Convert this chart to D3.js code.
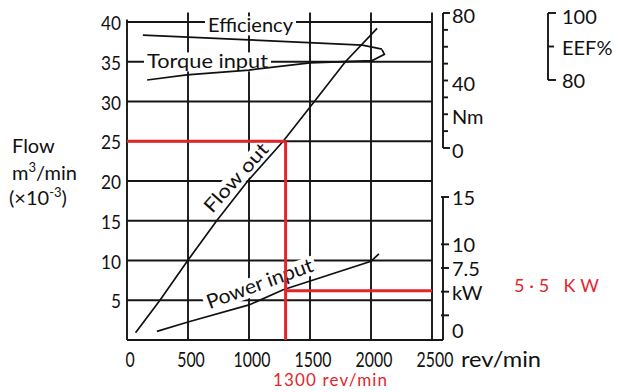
<!DOCTYPE html>
<html lang="en">
<head>
    <meta charset="UTF-8">
    <title>Pump characteristics</title>
    <script src="https://d3js.org/d3.v7.min.js"></script>
    <style>
        body {
            margin: 0;
            background: #fff;
        }
        svg text {
            font-family: Lato, "Open Sans", sans-serif;
            fill: #111;
        }
        .grid line {
            stroke: #161616;
            stroke-width: 1.9px;
        }
        .curve {
            fill: none;
            stroke: #111;
            stroke-width: 1.7px;
        }
        .red {
            stroke: #e1262b;
            stroke-width: 3px;
        }
        .redtext {
            fill: #e1262b !important;
        }
    </style>
</head>
<body>
<div id="chart"></div>
<script>
    // ---- data ----
    const rpmTicks = [0, 500, 1000, 1500, 2000, 2500];
    const flowTicks = [5, 10, 15, 20, 25, 30, 35, 40];
    const nmTicks = [0, 10, 20, 30, 40, 50, 60, 70, 80];
    const nmLabels = {80: "80", 40: "40", 20: "Nm", 0: "0"};
    const kwTicks = [0, 2.5, 5, 7.5, 10, 15];
    const kwLabels = {15: "15", 10: "10", 7.5: "7.5", 5: "kW", 0: "0"};
    const eefTicks = [100, 90, 80];
    const eefLabels = {100: "100", 90: "EEF%", 80: "80"};

    // [rev/min, flow m3/min x10^-3]
    const flowOut = [[70, 0.9], [270, 5], [498, 10], [735, 15], [990, 20], [1280, 25], [1536, 30], [1790, 35], [2050, 39.2]];
    // [rev/min, kW]
    const powerInput = [[245, 0.8], [500, 1.8], [1000, 3.6], [1280, 5.2], [2000, 8.2], [2065, 9.0]];
    // [rev/min, Nm]  (last two points are the little hook joining the efficiency curve)
    const torqueInput = [[165, 40.3], [490, 43.3], [1000, 46.2], [1500, 50.4], [2010, 51.8], [2110, 55.5], [2090, 58.3]];
    // [rev/min, EEF %]
    const efficiency = [[130, 93.4], [500, 92.8], [1000, 92.0], [1577, 91.0], [1930, 90.4], [2090, 89.2]];

    // red annotation
    const markRpm = 1300, markFlow = 25, markKw = 5.1;

    const width = 619, height = 392;

    const svg = d3.select("#chart").append("svg")
        .attr("width", width)
        .attr("height", height);

    const x = d3.scaleLinear().domain([0, 2500]).range([127, 432]);
    const yFlow = d3.scaleLinear().domain([0, 40]).range([340, 22]);
    const yNm = d3.scaleLinear().domain([0, 80]).range([148, 13]);
    const yKw = d3.scaleLinear().domain([0, 15]).range([339, 197]);
    const yEef = d3.scaleLinear().domain([80, 100]).range([80, 13]);

    // digits in the printed font are narrow, so pin their width
    const numLen = (s, w) => String(s).length * w;

    // grid
    const grid = svg.append("g").attr("class", "grid");
    grid.selectAll(".h").data(flowTicks).enter().append("line")
        .attr("x1", x(0)).attr("x2", x(2500))
        .attr("y1", d => yFlow(d)).attr("y2", d => yFlow(d));
    grid.selectAll(".v").data(rpmTicks).enter().append("line")
        .attr("x1", d => x(d)).attr("x2", d => x(d))
        .attr("y1", yFlow(0)).attr("y2", d => d === 0 ? yFlow(40.3) : yFlow(41.2));
    // bottom line runs under the kW axis
    grid.append("line")
        .attr("x1", x(0)).attr("x2", 443)
        .attr("y1", yFlow(0)).attr("y2", yFlow(0));

    // left flow axis labels
    svg.append("g").selectAll("text").data(flowTicks).enter().append("text")
        .attr("x", 121).attr("y", d => yFlow(d) + 8)
        .attr("text-anchor", "end")
        .attr("font-size", 20)
        .attr("textLength", d => numLen(d, 10))
        .attr("lengthAdjust", "spacingAndGlyphs")
        .text(d => d);

    // bottom rpm labels
    svg.append("g").selectAll("text").data(rpmTicks).enter().append("text")
        .attr("x", d => x(d) + 3).attr("y", 367)
        .attr("text-anchor", "middle")
        .attr("font-size", 21)
        .attr("textLength", d => numLen(d, 9.2))
        .attr("lengthAdjust", "spacingAndGlyphs")
        .text(d => d);
    svg.append("text").attr("x", 461).attr("y", 367)
        .attr("font-size", 21).attr("textLength", 80)
        .attr("lengthAdjust", "spacingAndGlyphs")
        .text("rev/min");

    // flow axis title
    const ft = svg.append("text").attr("font-size", 20);
    ft.append("tspan").attr("x", 12).attr("y", 153).text("Flow");
    ft.append("tspan").attr("x", 12).attr("y", 180).text("m");
    ft.append("tspan").attr("dy", -8).attr("font-size", 13).text("3");
    ft.append("tspan").attr("dy", 8).text("/min");
    ft.append("tspan").attr("x", 9).attr("y", 205).text("(\u00d710");
    ft.append("tspan").attr("dy", -8).attr("font-size", 13).text("-3");
    ft.append("tspan").attr("dy", 8).text(")");

    // Nm axis
    const nmX = 443;
    const nmAxis = svg.append("g").attr("class", "grid");
    nmAxis.append("line").attr("x1", nmX).attr("x2", nmX).attr("y1", yNm(80)).attr("y2", yNm(0));
    nmAxis.selectAll(".t").data(nmTicks).enter().append("line")
        .attr("x1", nmX).attr("x2", d => d === 0 || d === 80 ? nmX + 7 : nmX + 5)
        .attr("y1", d => yNm(d)).attr("y2", d => yNm(d));
    svg.append("g").selectAll("text").data(nmTicks.filter(d => nmLabels[d])).enter().append("text")
        .attr("x", 452).attr("y", d => yNm(d) + 10)
        .attr("font-size", 20)
        .text(d => nmLabels[d]);

    // kW axis
    const kwX = 443;
    const kwAxis = svg.append("g").attr("class", "grid");
    kwAxis.append("line").attr("x1", kwX).attr("x2", kwX).attr("y1", yKw(15)).attr("y2", yFlow(0));
    kwAxis.selectAll(".t").data(kwTicks.filter(d => d > 0)).enter().append("line")
        .attr("x1", kwX - 2).attr("x2", kwX + 6)
        .attr("y1", d => yKw(d)).attr("y2", d => yKw(d));
    svg.append("g").selectAll("text").data(kwTicks.filter(d => kwLabels[d])).enter().append("text")
        .attr("x", 452).attr("y", d => d === 0 ? 338 : yKw(d) + 8)
        .attr("font-size", 20)
        .text(d => kwLabels[d]);

    // EEF% bracket
    const eX = 548;
    const eAxis = svg.append("g").attr("class", "grid");
    eAxis.append("line").attr("x1", eX).attr("x2", eX).attr("y1", yEef(100)).attr("y2", yEef(80));
    eAxis.selectAll(".t").data(eefTicks).enter().append("line")
        .attr("x1", eX).attr("x2", d => d === 90 ? eX + 6 : eX + 8)
        .attr("y1", d => yEef(d)).attr("y2", d => yEef(d));
    svg.append("g").selectAll("text").data(eefTicks).enter().append("text")
        .attr("x", 562).attr("y", d => yEef(d) + (d === 100 ? 11 : 8))
        .attr("font-size", 20)
        .text(d => eefLabels[d]);

    // curve labels, with a white box that breaks the grid like the printed chart
    function label(txt, cx, cy, angle, len, size) {
        const g = svg.append("g")
            .attr("transform", `translate(${cx},${cy}) rotate(${angle})`);
        g.append("rect")
            .attr("x", -len / 2 - 3).attr("y", -size * 0.78)
            .attr("width", len + 6).attr("height", size * 0.95)
            .attr("fill", "#fff");
        g.append("text")
            .attr("text-anchor", "middle")
            .attr("font-size", size)
            .attr("textLength", len)
            .attr("lengthAdjust", "spacingAndGlyphs")
            .text(txt);
    }
    label("Efficiency", 250.5, 32, 0, 85, 20);
    label("Torque input", 207.5, 68, 0, 121, 20);
    label("Flow out", 241, 182, -48, 86, 19);
    label("Power input", 262, 290, -20, 112, 20);

    // curves
    const lineFlow = d3.line().x(d => x(d[0])).y(d => yFlow(d[1]));
    const linePower = d3.line().x(d => x(d[0])).y(d => yKw(d[1]));
    const lineTorque = d3.line().x(d => x(d[0])).y(d => yNm(d[1]));
    const lineEff = d3.line().x(d => x(d[0])).y(d => yEef(d[1]));

    svg.append("path").attr("class", "curve").attr("d", lineFlow(flowOut));
    svg.append("path").attr("class", "curve").attr("d", linePower(powerInput));
    svg.append("path").attr("class", "curve").attr("d", lineTorque(torqueInput));
    svg.append("path").attr("class", "curve").attr("d", lineEff(efficiency));

    // red annotation lines
    const red = svg.append("g").attr("class", "red");
    red.append("line").attr("x1", x(0)).attr("x2", x(markRpm))
        .attr("y1", yFlow(markFlow)).attr("y2", yFlow(markFlow));
    red.append("line").attr("x1", x(markRpm)).attr("x2", x(markRpm))
        .attr("y1", yFlow(markFlow)).attr("y2", yFlow(0));
    red.append("line").attr("x1", x(markRpm)).attr("x2", x(2500))
        .attr("y1", yKw(markKw)).attr("y2", yKw(markKw));

    svg.append("text").attr("class", "redtext")
        .attr("x", 273).attr("y", 386)
        .attr("font-size", 17).attr("textLength", 114)
        .text("1300 rev/min");
    svg.append("text").attr("class", "redtext")
        .attr("x", 514).attr("y", 292)
        .attr("font-size", 18).attr("textLength", 85)
        .text("5\u00b75 KW");
</script>
</body>
</html>
